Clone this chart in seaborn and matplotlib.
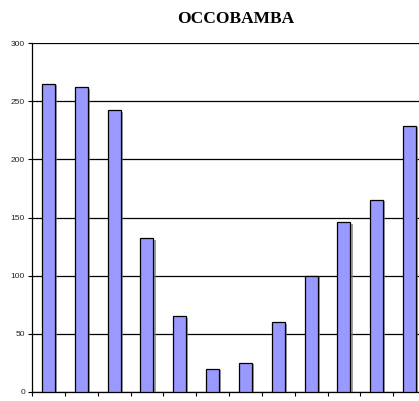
import numpy as np
import pandas as pd
import matplotlib
matplotlib.use('Agg')
import matplotlib.pyplot as plt
import matplotlib.patheffects as pe
import seaborn as sns

# Data
months = ['Ene', 'Feb', 'Mar', 'Abr', 'May', 'Jun', 'Jul', 'Ago', 'Sep', 'Oct', 'Nov', 'Dic']
values = [265, 262, 242, 132, 65, 20, 25, 60, 100, 146, 165, 229]
yticks = [0, 50, 100, 150, 200, 250, 300]

df = pd.DataFrame({'mes': months, 'valor': values})

sns.set_style('white')
plt.rcParams['font.family'] = ['Liberation Sans Narrow', 'Liberation Sans', 'DejaVu Sans']

fig = plt.figure(figsize=(4.19, 4.01), dpi=100)
ax = fig.add_axes([32 / 419, 9 / 401, 394 / 419, 349 / 401])

sns.barplot(data=df, x='mes', y='valor', color='#9999FF', saturation=1,
            width=0.4, edgecolor='black', linewidth=0.9, ax=ax, zorder=3)
for bar in ax.patches:
    bar.set_path_effects([pe.SimplePatchShadow(offset=(1.5, -1), shadow_rgbFace='#777777', alpha=0.7),
                          pe.Normal()])

ax.set_xlim(-0.5, len(months) - 0.5)
ax.set_ylim(0, 300)
ax.set_yticks(yticks)
ax.set_yticklabels([str(v) for v in yticks], fontsize=6, color='#222222')
ax.yaxis.grid(True, color='black', linewidth=0.9, zorder=0)
ax.set_axisbelow(True)

ax.set_xticks(np.arange(-0.5, len(months), 1))
ax.set_xticklabels([])
ax.tick_params(axis='x', direction='out', length=3, width=0.8, color='black', bottom=True)
ax.tick_params(axis='y', direction='out', length=3, width=0.8, color='black', left=True, pad=2)

ax.set_xlabel('')
ax.set_ylabel('')
for s in ['top', 'right']:
    ax.spines[s].set_visible(False)
for s in ['left', 'bottom']:
    ax.spines[s].set_color('black')
    ax.spines[s].set_linewidth(0.9)

fig.text(236 / 419, 1 - 19 / 401, 'OCCOBAMBA', ha='center', va='center',
         fontsize=12.5, fontweight='bold', family='Liberation Serif', color='black')

fig.savefig('out.png', dpi=100)
